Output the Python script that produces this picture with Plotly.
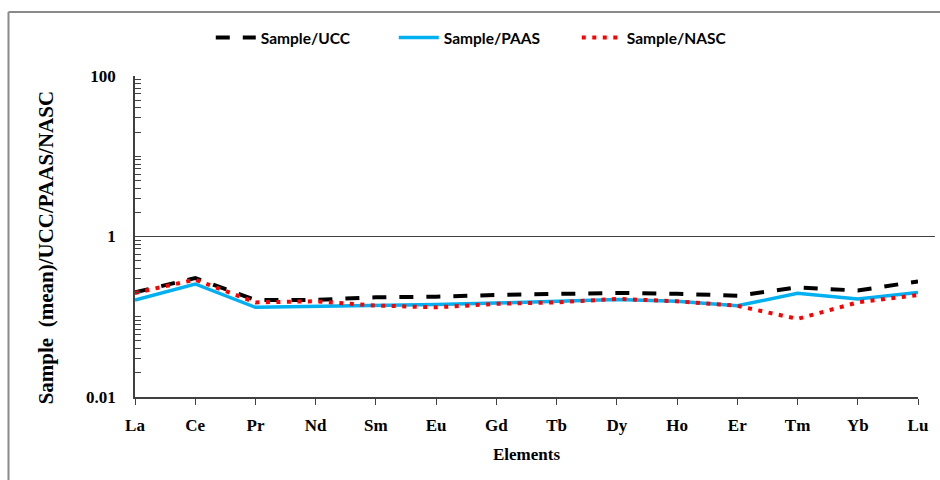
import plotly.graph_objects as go

elements = ["La", "Ce", "Pr", "Nd", "Sm", "Eu", "Gd", "Tb", "Dy", "Ho", "Er", "Tm", "Yb", "Lu"]
ucc = [0.201, 0.304, 0.162, 0.162, 0.175, 0.178, 0.187, 0.193, 0.198, 0.193, 0.183, 0.232, 0.212, 0.276]
paas = [0.162, 0.256, 0.131, 0.134, 0.138, 0.142, 0.148, 0.156, 0.164, 0.156, 0.137, 0.196, 0.167, 0.201]
nasc = [0.198, 0.290, 0.151, 0.156, 0.138, 0.131, 0.145, 0.151, 0.167, 0.156, 0.137, 0.094, 0.151, 0.187]
y_ticks = [0.01, 1, 100]
y_ticklabels = ["0.01", "1", "100"]

W, H = 940, 480
L, R, T, B = 135, 921, 76, 397

fig = go.Figure()
fig.add_trace(go.Scatter(x=elements, y=ucc, name="Sample/UCC", mode="lines",
                         line=dict(color="#000000", width=4, dash="14px,13px")))
fig.add_trace(go.Scatter(x=elements, y=paas, name="Sample/PAAS", mode="lines",
                         line=dict(color="#00B0F0", width=3.5)))
fig.add_trace(go.Scatter(x=elements, y=nasc, name="Sample/NASC", mode="lines",
                         line=dict(color="#FF0000", width=4, dash="4px,6.5px")))

pw = R - L
ph = B - T
def px(x):
    return (x - L) / pw
def py(y):
    return (B - y) / ph

shapes = [
    # line at y = 1
    dict(type="line", xref="paper", yref="paper", x0=0, x1=px(938), y0=0.5, y1=0.5,
         line=dict(color="#404040", width=1.2), layer="below"),
    # outer frame (top and left)
    dict(type="line", xref="paper", yref="paper", x0=px(8), x1=px(945), y0=py(12), y1=py(12),
         line=dict(color="#8a8a8a", width=2)),
    dict(type="line", xref="paper", yref="paper", x0=px(8), x1=px(8), y0=py(12), y1=py(485),
         line=dict(color="#8a8a8a", width=2)),
]

tnr = "Liberation Serif, Times New Roman, serif"

minor_vals = []
for d in [0.01, 0.1, 1, 10]:
    for k in range(2, 10):
        minor_vals.append(k * d)
minor_vals += [0.1, 10]

annotations = [
    dict(text="Sample  (mean)/UCC/PAAS/NASC", textangle=-90, xref="paper", yref="paper",
         x=px(46), y=py(248), xanchor="center", yanchor="middle", showarrow=False,
         font=dict(family=tnr, size=21, color="#000000", weight="bold")),
]

fig.update_layout(
    width=W, height=H,
    margin=dict(l=L, r=W - R, t=T, b=H - B),
    paper_bgcolor="white", plot_bgcolor="white",
    showlegend=True,
    legend=dict(orientation="h", x=px(215) - 0.005, xanchor="left", y=py(38), yanchor="middle",
                font=dict(family="Lato, Open Sans, sans-serif", size=15.5, color="#000000", weight="bold"),
                entrywidth=128, entrywidthmode="pixels",
                itemwidth=40, tracegroupgap=0, bgcolor="rgba(0,0,0,0)"),
    shapes=shapes,
    annotations=annotations,
    xaxis=dict(
        type="category", range=[0, len(elements) - 1],
        showline=True, linecolor="#404040", linewidth=1.5,
        ticks="outside", ticklen=6, tickcolor="#404040", tickwidth=1,
        showgrid=False, zeroline=False,
        tickfont=dict(family=tnr, size=17, color="#000000", weight="bold"),
        ticklabelstandoff=6,
        title=dict(text="Elements", font=dict(family=tnr, size=17, color="#000000", weight="bold"), standoff=14),
    ),
    yaxis=dict(
        type="log", range=[-2, 2],
        showline=True, linecolor="#404040", linewidth=1.5,
        ticks="inside", ticklen=7, tickcolor="#404040", tickwidth=1,
        tickvals=y_ticks, ticktext=y_ticklabels,
        showgrid=False, zeroline=False,
        minor=dict(tickvals=minor_vals, ticks="inside", ticklen=6, tickcolor="#404040", tickwidth=1, showgrid=False),
        tickfont=dict(family=tnr, size=17, color="#000000", weight="bold"),
        ticklabelstandoff=14,
    ),
)

fig.write_html("out.html")
